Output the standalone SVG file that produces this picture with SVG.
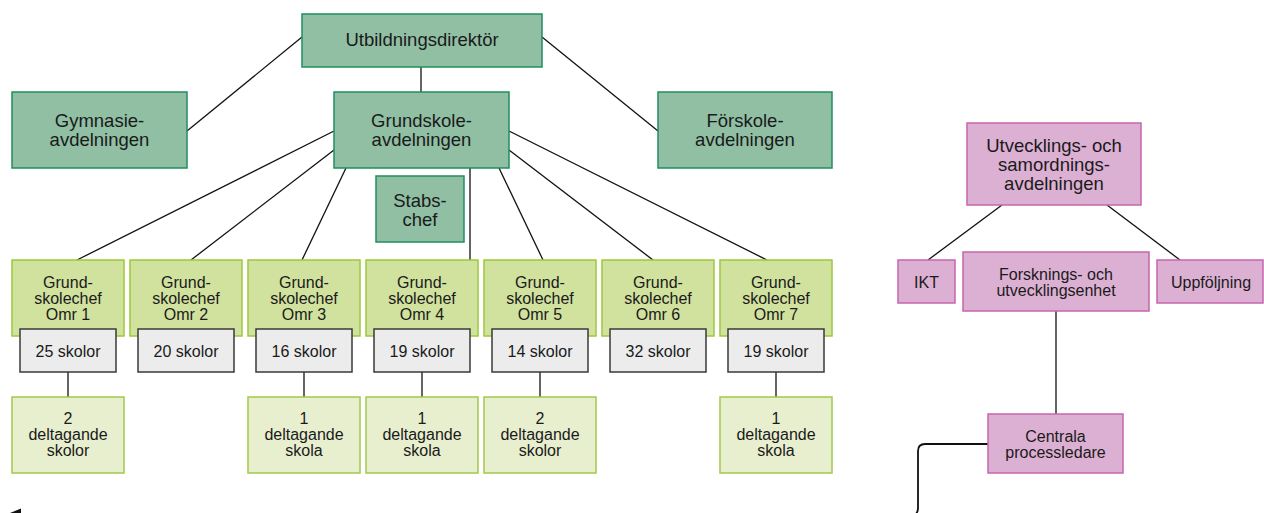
<svg xmlns="http://www.w3.org/2000/svg" width="1264" height="513" viewBox="0 0 1264 513">
<style>
text{font-family:"Liberation Sans",Arial,Helvetica,sans-serif;fill:#1a1a1a;text-anchor:middle}
.big{font-size:18.5px}
.sm{font-size:16px}
.main{fill:#90bfa4;stroke:#1f8f5f;stroke-width:1.5}
.chef{fill:#d1e19e;stroke:#9cc83c;stroke-width:1.5}
.delt{fill:#e8efcf;stroke:#a3c94a;stroke-width:1.5}
.gray{fill:#ececec;stroke:#3a3a3a;stroke-width:1.5}
.pink{fill:#dcb0d3;stroke:#c764ad;stroke-width:1.5}
.con line{stroke:#111;stroke-width:1.3}
.con path{fill:none;stroke:#111;stroke-width:1.8}
</style>
<g id="connectors" class="con">
<line x1="421" y1="67" x2="421" y2="92"/>
<line x1="302" y1="37" x2="187" y2="131"/>
<line x1="542" y1="37" x2="658" y2="131"/>
<line x1="334" y1="131" x2="77" y2="260"/>
<line x1="334" y1="150" x2="191" y2="260"/>
<line x1="346" y1="168" x2="302" y2="260"/>
<line x1="470" y1="168" x2="470" y2="260"/>
<line x1="499" y1="168" x2="543" y2="260"/>
<line x1="509" y1="150" x2="653" y2="260"/>
<line x1="509" y1="131" x2="767" y2="260"/>
<line x1="68" y1="372" x2="68" y2="397"/>
<line x1="304" y1="372" x2="304" y2="397"/>
<line x1="422" y1="372" x2="422" y2="397"/>
<line x1="540" y1="372" x2="540" y2="397"/>
<line x1="776" y1="372" x2="776" y2="397"/>
<line x1="1002" y1="205" x2="928" y2="260"/>
<line x1="1107" y1="205" x2="1180" y2="260"/>
<line x1="1056" y1="311" x2="1056" y2="414"/>
<path d="M988,444 H925 Q918,444 918,451 V508 Q918,514 912,517 L30,517"/>
<polygon points="10,513 21,508.5 21,513" fill="#111"/>
</g>
<g id="n-utbildningsdirektor"><rect class="main" x="302" y="14" width="240" height="53"/><text class="big" x="422" y="46">Utbildningsdirektör</text></g>
<g id="n-gymnasie"><rect class="main" x="12" y="92" width="175" height="76"/><text class="big" x="99.5" y="127">Gymnasie-</text><text class="big" x="99.5" y="146">avdelningen</text></g>
<g id="n-grundskole"><rect class="main" x="334" y="92" width="175" height="76"/><text class="big" x="421.5" y="127">Grundskole-</text><text class="big" x="421.5" y="146">avdelningen</text></g>
<g id="n-forskole"><rect class="main" x="658" y="92" width="174" height="76"/><text class="big" x="745" y="127">Förskole-</text><text class="big" x="745" y="146">avdelningen</text></g>
<g id="n-stabschef"><rect class="main" x="376" y="176" width="88" height="66"/><text class="big" x="420" y="207">Stabs-</text><text class="big" x="420" y="226">chef</text></g>
<g id="n-omr1"><rect class="chef" x="12" y="260" width="112" height="76"/><text class="sm" x="68" y="288">Grund-</text><text class="sm" x="68" y="304">skolechef</text><text class="sm" x="68" y="320">Omr 1</text></g>
<g id="n-omr2"><rect class="chef" x="130" y="260" width="112" height="76"/><text class="sm" x="186" y="288">Grund-</text><text class="sm" x="186" y="304">skolechef</text><text class="sm" x="186" y="320">Omr 2</text></g>
<g id="n-omr3"><rect class="chef" x="248" y="260" width="112" height="76"/><text class="sm" x="304" y="288">Grund-</text><text class="sm" x="304" y="304">skolechef</text><text class="sm" x="304" y="320">Omr 3</text></g>
<g id="n-omr4"><rect class="chef" x="366" y="260" width="112" height="76"/><text class="sm" x="422" y="288">Grund-</text><text class="sm" x="422" y="304">skolechef</text><text class="sm" x="422" y="320">Omr 4</text></g>
<g id="n-omr5"><rect class="chef" x="484" y="260" width="112" height="76"/><text class="sm" x="540" y="288">Grund-</text><text class="sm" x="540" y="304">skolechef</text><text class="sm" x="540" y="320">Omr 5</text></g>
<g id="n-omr6"><rect class="chef" x="602" y="260" width="112" height="76"/><text class="sm" x="658" y="288">Grund-</text><text class="sm" x="658" y="304">skolechef</text><text class="sm" x="658" y="320">Omr 6</text></g>
<g id="n-omr7"><rect class="chef" x="720" y="260" width="112" height="76"/><text class="sm" x="776" y="288">Grund-</text><text class="sm" x="776" y="304">skolechef</text><text class="sm" x="776" y="320">Omr 7</text></g>
<g id="n-skolor1"><rect class="gray" x="20" y="329" width="96" height="43"/><text class="sm" x="68" y="357">25 skolor</text></g>
<g id="n-skolor2"><rect class="gray" x="138" y="329" width="96" height="43"/><text class="sm" x="186" y="357">20 skolor</text></g>
<g id="n-skolor3"><rect class="gray" x="256" y="329" width="96" height="43"/><text class="sm" x="304" y="357">16 skolor</text></g>
<g id="n-skolor4"><rect class="gray" x="374" y="329" width="96" height="43"/><text class="sm" x="422" y="357">19 skolor</text></g>
<g id="n-skolor5"><rect class="gray" x="492" y="329" width="96" height="43"/><text class="sm" x="540" y="357">14 skolor</text></g>
<g id="n-skolor6"><rect class="gray" x="610" y="329" width="96" height="43"/><text class="sm" x="658" y="357">32 skolor</text></g>
<g id="n-skolor7"><rect class="gray" x="728" y="329" width="96" height="43"/><text class="sm" x="776" y="357">19 skolor</text></g>
<g id="n-delt1"><rect class="delt" x="12" y="397" width="112" height="76"/><text class="sm" x="68" y="424">2</text><text class="sm" x="68" y="440">deltagande</text><text class="sm" x="68" y="456">skolor</text></g>
<g id="n-delt3"><rect class="delt" x="248" y="397" width="112" height="76"/><text class="sm" x="304" y="424">1</text><text class="sm" x="304" y="440">deltagande</text><text class="sm" x="304" y="456">skola</text></g>
<g id="n-delt4"><rect class="delt" x="366" y="397" width="112" height="76"/><text class="sm" x="422" y="424">1</text><text class="sm" x="422" y="440">deltagande</text><text class="sm" x="422" y="456">skola</text></g>
<g id="n-delt5"><rect class="delt" x="484" y="397" width="112" height="76"/><text class="sm" x="540" y="424">2</text><text class="sm" x="540" y="440">deltagande</text><text class="sm" x="540" y="456">skolor</text></g>
<g id="n-delt7"><rect class="delt" x="720" y="397" width="112" height="76"/><text class="sm" x="776" y="424">1</text><text class="sm" x="776" y="440">deltagande</text><text class="sm" x="776" y="456">skola</text></g>
<g id="n-utvecklings"><rect class="pink" x="967" y="123" width="174" height="82"/><text class="big" x="1054" y="152">Utvecklings- och</text><text class="big" x="1054" y="171">samordnings-</text><text class="big" x="1054" y="190">avdelningen</text></g>
<g id="n-ikt"><rect class="pink" x="898" y="260" width="57" height="43"/><text class="sm" x="926.5" y="288">IKT</text></g>
<g id="n-forsknings"><rect class="pink" x="963" y="252" width="186" height="59"/><text class="sm" x="1056" y="280">Forsknings- och</text><text class="sm" x="1056" y="295.5">utvecklingsenhet</text></g>
<g id="n-uppfoljning"><rect class="pink" x="1157" y="260" width="106" height="43"/><text class="sm" x="1211" y="288">Uppföljning</text></g>
<g id="n-centrala"><rect class="pink" x="988" y="414" width="135" height="59"/><text class="sm" x="1055.5" y="442">Centrala</text><text class="sm" x="1055.5" y="457.5">processledare</text></g>
</svg>
